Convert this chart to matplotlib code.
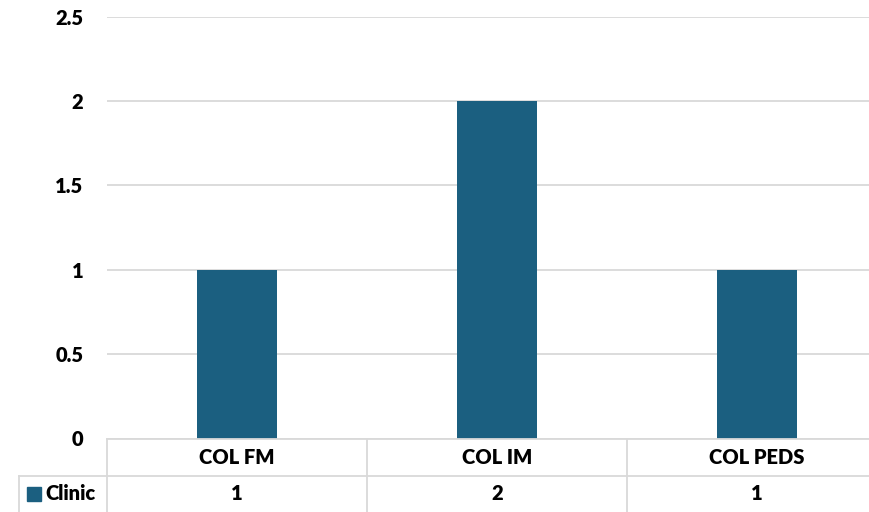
import matplotlib
matplotlib.use("Agg")
import matplotlib.pyplot as plt
from matplotlib.patches import Rectangle

categories = ["COL FM", "COL IM", "COL PEDS"]
series_name = "Clinic"
values = [1, 2, 1]
y_ticks = [0, 0.5, 1, 1.5, 2, 2.5]
y_tick_labels = ["0", "0.5", "1", "1.5", "2", "2.5"]

BAR_COLOR = "#1B5F80"
GRID_COLOR = "#D9D9D9"
FONT = "Lato"
FW = "heavy"
FS = 14.5

W, H = 869, 512
fig = plt.figure(figsize=(W / 100, H / 100), dpi=100)
fig.patch.set_facecolor("white")

# plot area in pixels (the right end runs past the figure edge)
left_px, right_px = 107, 887
top_px, zero_px = 16.7, 438.5


def fx(px):
    return px / W


def fy(py):
    return 1 - py / H


ax = fig.add_axes([fx(left_px), fy(zero_px), fx(right_px - left_px),
                   (zero_px - top_px) / H])
x = list(range(len(categories)))
ax.bar(x, values, width=0.31, color=BAR_COLOR, zorder=3)
ax.set_xlim(-0.5, len(categories) - 0.5)
ax.set_ylim(0, 2.5)
ax.set_yticks(y_ticks)
ax.set_yticklabels(y_tick_labels, fontfamily=FONT, fontweight=FW,
                   fontsize=FS)
ax.tick_params(axis="y", length=0, pad=17)
ax.set_xticks([])
for s in ax.spines.values():
    s.set_visible(False)
ax.grid(axis="y", color=GRID_COLOR, linewidth=1.3, zorder=0)

# data table under the plot
row1_bottom = 476
row2_bottom = 520
legend_left = 19
lw = 1.3


def hline(y, x0, x1):
    fig.add_artist(plt.Line2D([fx(x0), fx(x1)], [fy(y), fy(y)],
                              color=GRID_COLOR, linewidth=lw))


def vline(xp, y0, y1):
    fig.add_artist(plt.Line2D([fx(xp), fx(xp)], [fy(y0), fy(y1)],
                              color=GRID_COLOR, linewidth=lw))


hline(zero_px + 0.5, left_px, right_px)
hline(row1_bottom, legend_left, right_px)
vline(legend_left, row1_bottom, row2_bottom)
col_w = (right_px - left_px) / len(categories)
for i in range(len(categories) + 1):
    vline(left_px + i * col_w, zero_px + 0.5, row2_bottom)

for i, (cat, val) in enumerate(zip(categories, values)):
    cx = left_px + (i + 0.5) * col_w
    fig.text(fx(cx), fy(457), cat, ha="center", va="center",
             fontfamily=FONT, fontweight=FW, fontsize=FS)
    fig.text(fx(cx), fy(494), f"{val:g}", ha="center", va="center",
             fontfamily=FONT, fontweight=FW, fontsize=FS)

# legend key and series name
fig.add_artist(Rectangle((fx(27), fy(501)), fx(14), 14 / H,
                         color=BAR_COLOR, transform=fig.transFigure))
fig.text(fx(45), fy(494), series_name, ha="left", va="center",
         fontfamily=FONT, fontweight=FW, fontsize=FS)

fig.savefig("out.png", dpi=100, facecolor="white")
